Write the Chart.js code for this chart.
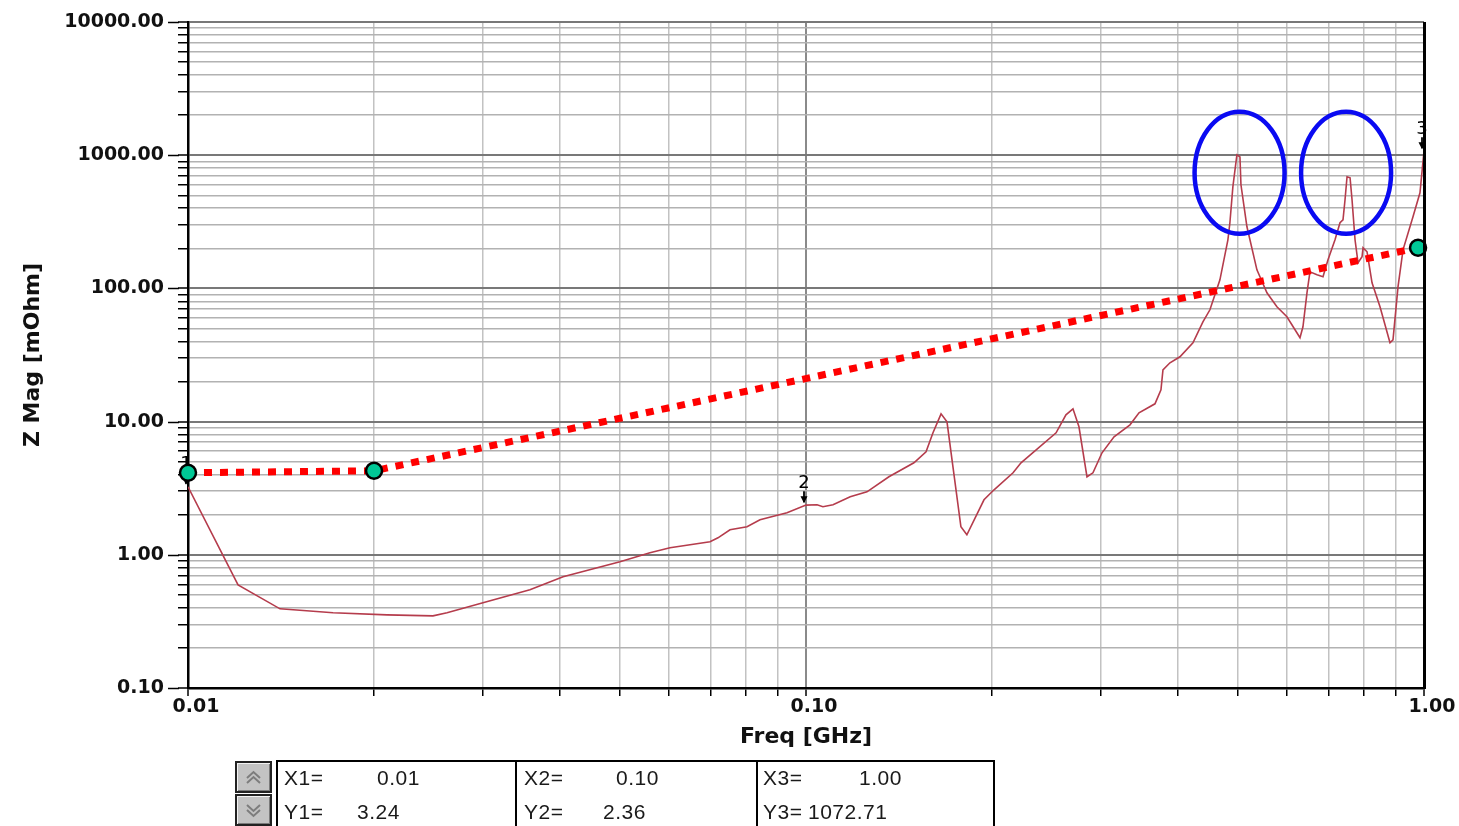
<!DOCTYPE html>
<html>
<head>
<meta charset="utf-8">
<script src="https://cdn.jsdelivr.net/npm/chart.js@4.4.1/dist/chart.umd.min.js"></script>
<style>
  html, body { margin: 0; padding: 0; background: #fff; overflow: hidden; }
  #wrap { position: relative; width: 1459px; height: 826px; }
  #chart { position: absolute; left: 0; top: 0; }
  .box { position: absolute; left: 276px; top: 760px; width: 719px; height: 90px; border: 2px solid #000; box-sizing: border-box; }
  .div { position: absolute; top: 760px; width: 0; height: 90px; border-left: 2px solid #000; }
  .t { position: absolute; font-family: "Liberation Sans", Arial, sans-serif; font-size: 21px; letter-spacing: 0.5px; color: #1a1a1a; line-height: 24px; white-space: pre; }
  .btn { position: absolute; left: 235px; width: 37px; height: 32px; background: #c3c3c3; box-sizing: border-box;
         border: 2px solid #222; box-shadow: inset 1px 1px 0 #f2f2f2, inset -1px -1px 0 #7a7a7a; }
  .btn svg { position: absolute; left: 0; top: 0; }
</style>
</head>
<body>
<div id="wrap">
  <canvas id="chart" width="1459" height="826"></canvas>
  <div class="btn" style="top:761px"><svg width="33" height="28"><polyline points="10,15 16.5,9 23,15" fill="none" stroke="#7d7d7d" stroke-width="2"/><polyline points="10,20 16.5,14 23,20" fill="none" stroke="#7d7d7d" stroke-width="2"/></svg></div>
  <div class="btn" style="top:794px"><svg width="33" height="28"><polyline points="10,9 16.5,15 23,9" fill="none" stroke="#7d7d7d" stroke-width="2"/><polyline points="10,14 16.5,20 23,14" fill="none" stroke="#7d7d7d" stroke-width="2"/></svg></div>
  <div class="box"></div>
  <div class="div" style="left:515px"></div>
  <div class="div" style="left:756px"></div>
  <div id="readout"></div>
</div>
<script>
// ---------------- data ----------------
const freqGHz = [
  0.0100, 0.01205, 0.01409, 0.01717, 0.02099, 0.02491, 0.02625, 0.03001, 0.03575, 0.04045,
  0.0500, 0.05591, 0.06025, 0.06994, 0.07204, 0.07534, 0.08027, 0.08425, 0.09317, 0.1000,
  0.1042, 0.1065, 0.1106, 0.1179, 0.1255, 0.1362, 0.1495, 0.1564, 0.1605, 0.1654,
  0.1691, 0.1729, 0.1781, 0.1821, 0.1941, 0.2015, 0.2163, 0.2228, 0.2539, 0.2634,
  0.2704, 0.2765, 0.2849, 0.2913, 0.3013, 0.3151, 0.3344, 0.3458, 0.3670, 0.3753,
  0.3781, 0.3881, 0.4028, 0.4228, 0.4388, 0.4504, 0.4675, 0.4816, 0.4852, 0.4906,
  0.4980, 0.5037, 0.5056, 0.5170, 0.5366, 0.5570, 0.5781, 0.6000, 0.6300, 0.6370,
  0.6466, 0.6538, 0.6712, 0.6864, 0.6993, 0.7178, 0.7313, 0.7395, 0.7451, 0.7507,
  0.7592, 0.7648, 0.7734, 0.7821, 0.7939, 0.7968, 0.8088, 0.8240, 0.8488, 0.8810,
  0.8909, 0.9077, 0.9248, 0.9598, 0.9851, 1.0000
];
const zMag = [
  3.24, 0.595, 0.393, 0.367, 0.354, 0.348, 0.367, 0.436, 0.546, 0.684,
  0.886, 1.035, 1.129, 1.252, 1.341, 1.541, 1.623, 1.831, 2.067, 2.36,
  2.373, 2.293, 2.373, 2.725, 2.972, 3.852, 4.906, 5.934, 8.24, 11.44,
  9.97, 4.578, 1.623, 1.413, 2.588, 3.076, 4.127, 4.906, 8.24, 11.25,
  12.48, 9.14, 3.852, 4.127, 5.832, 7.69, 9.46, 11.65, 13.60, 17.33,
  24.48, 27.63, 30.65, 39.05, 56.13, 69.1, 116.0, 231.7, 310.9, 579,
  1007, 972, 599.6, 290.1, 137.9, 92.7, 72.8, 61.2, 42.6, 51.5,
  92.7, 133.2, 126.5, 122.2, 163.9, 231.7, 310.9, 327.3, 462.8, 688.4,
  676.6, 462.8, 231.7, 155.7, 172.7, 201.7, 188.3, 110.2, 72.8, 39.05,
  41.1, 102.8, 194.9, 344.8, 522, 1072.71
];
// target impedance mask (dotted red line with markers)
const maskFreq = [0.01, 0.02, 0.978];
const maskZ = [4.13, 4.27, 202];
// marker readouts
const markerFreq = [0.01, 0.10, 1.00];
const markerZ = [3.24, 2.36, 1072.71];
// highlighted resonances (blue ellipses)
const highlightFreq = [0.503, 0.748];
const highlightZ = [738, 738];
// tick labels
const xTickLabels = ['0.01', '0.10', '1.00'];
const yTickLabels = ['0.10', '1.00', '10.00', '100.00', '1000.00', '10000.00'];
const minorMultipliers = [1, 2, 3, 4, 5, 6, 7, 8, 9];

// ---------------- helpers ----------------
function buildTicks(labels) {
  const decades = labels.map(Number);
  const vals = [];
  decades.forEach((d, i) => {
    if (i === decades.length - 1) { vals.push(d); return; }
    minorMultipliers.forEach(m => vals.push(+(d * m).toPrecision(6)));
  });
  return vals;
}
function isDecade(v) {
  const l = Math.log10(v);
  return Math.abs(l - Math.round(l)) < 1e-6;
}
function labelFor(labels, v) {
  const found = labels.find(s => Math.abs(Number(s) - v) < 1e-9 * Math.max(1, v));
  return found !== undefined ? found : '';
}
const xTickValues = buildTicks(xTickLabels);
const yTickValues = buildTicks(yTickLabels);

const tickFont = { family: 'DejaVu Sans', size: 19, weight: 'bold', lineHeight: 1.15 };
const titleFont = { family: 'DejaVu Sans', size: 22, weight: 'bold' };

// ---------------- extra drawing plugin ----------------
const overlay = {
  id: 'overlay',
  beforeDatasetsDraw(chart) {
    const { ctx, scales: { x, y } } = chart;
    ctx.save();
    ctx.fillStyle = '#000';
    ctx.strokeStyle = '#000';
    ctx.font = '18px "DejaVu Sans"';
    ctx.textAlign = 'center';
    ctx.textBaseline = 'middle';
    markerFreq.forEach((mf, i) => {
      const px = x.getPixelForValue(mf) - 2;
      const py = y.getPixelForValue(markerZ[i]);
      ctx.fillText(String(i + 1), px, py - 22);
      ctx.lineWidth = 1.8;
      ctx.beginPath(); ctx.moveTo(px, py - 14); ctx.lineTo(px, py - 3); ctx.stroke();
      ctx.beginPath(); ctx.moveTo(px - 3.5, py - 9); ctx.lineTo(px + 3.5, py - 9); ctx.lineTo(px, py - 2); ctx.closePath(); ctx.fill();
    });
    ctx.restore();
  },
  afterDatasetsDraw(chart) {
    const { ctx, scales: { x, y } } = chart;
    ctx.save();
    ctx.strokeStyle = '#0a0af2';
    ctx.lineWidth = 4.5;
    highlightFreq.forEach((hf, i) => {
      const cx = x.getPixelForValue(hf);
      const cy = y.getPixelForValue(highlightZ[i]);
      ctx.beginPath();
      ctx.ellipse(cx, cy, 45, 61, 0, 0, Math.PI * 2);
      ctx.stroke();
    });
    ctx.restore();
  },
  afterDraw(chart) {
    const { ctx, chartArea, scales: { y } } = chart;
    ctx.save();
    // thick right frame
    ctx.strokeStyle = '#000';
    ctx.lineWidth = 3;
    ctx.beginPath();
    ctx.moveTo(chartArea.right + 0.5, chartArea.top);
    ctx.lineTo(chartArea.right + 0.5, chartArea.bottom + 1);
    ctx.stroke();
    // longer major ticks on the y axis
    ctx.lineWidth = 1.5;
    yTickLabels.map(Number).forEach(v => {
      const py = Math.round(y.getPixelForValue(v)) + 0.5;
      ctx.beginPath();
      ctx.moveTo(chartArea.left - 20, py);
      ctx.lineTo(chartArea.left - 9, py);
      ctx.stroke();
    });
    ctx.restore();
  }
};

// ---------------- chart ----------------
new Chart(document.getElementById('chart'), {
  type: 'line',
  data: {
    datasets: [
      {
        label: 'Target',
        data: maskFreq.map((f, i) => ({ x: f, y: maskZ[i] })),
        borderColor: '#ff0000',
        borderWidth: 7,
        borderDash: [8, 8],
        borderCapStyle: 'butt',
        pointRadius: 8,
        pointBackgroundColor: '#00c896',
        pointBorderColor: '#000',
        pointBorderWidth: 2.5,
        tension: 0,
        clip: false,
        order: 0
      },
      {
        label: 'Z Mag',
        data: freqGHz.map((f, i) => ({ x: f, y: zMag[i] })),
        borderColor: '#b53c4c',
        borderWidth: 1.6,
        pointRadius: 0,
        tension: 0,
        order: 1
      }
    ]
  },
  options: {
    responsive: false,
    animation: false,
    devicePixelRatio: 1,
    layout: { padding: { left: 0, top: 22, right: 35, bottom: 74 } },
    plugins: { legend: { display: false }, tooltip: { enabled: false } },
    scales: {
      x: {
        type: 'logarithmic',
        min: 0.01,
        max: 1,
        afterBuildTicks: s => { s.ticks = xTickValues.map(v => ({ value: v })); },
        afterFit: s => { s.height = 64; s.paddingLeft = 0; s.paddingRight = 0; },
        ticks: {
          autoSkip: false, maxRotation: 0, minRotation: 0,
          padding: 0, labelOffset: 8, color: '#111', font: tickFont,
          callback: v => labelFor(xTickLabels, v)
        },
        grid: {
          color: c => (c.tick && isDecade(c.tick.value)) ? '#8a8a8a' : '#c2c2c2',
          lineWidth: c => (c.tick && isDecade(c.tick.value)) ? 2 : 1.5,
          tickColor: '#000', tickLength: 8, tickWidth: 1.5
        },
        border: { display: true, color: '#000', width: 2.5 },
        title: { display: true, text: 'Freq [GHz]', color: '#111', font: titleFont, padding: { top: 0, bottom: 2 } }
      },
      y: {
        type: 'logarithmic',
        min: 0.1,
        max: 10000,
        afterBuildTicks: s => { s.ticks = yTickValues.map(v => ({ value: v })); },
        afterFit: s => { s.width = 188; s.paddingTop = 0; s.paddingBottom = 0; },
        ticks: {
          autoSkip: false, padding: 14, color: '#111', font: tickFont,
          callback: v => labelFor(yTickLabels, v)
        },
        grid: {
          color: c => (c.tick && isDecade(c.tick.value)) ? '#787878' : '#b2b2b2',
          lineWidth: c => (c.tick && isDecade(c.tick.value)) ? 2 : 1.5,
          tickColor: '#000', tickLength: 10, tickWidth: 1.5
        },
        border: { display: true, color: '#000', width: 2.5 },
        title: { display: true, text: 'Z Mag [mOhm]', color: '#111', font: titleFont, padding: { top: 20, bottom: 0 } }
      }
    }
  },
  plugins: [overlay]
});

// ---------------- marker readout table (real text) ----------------
const cellLeft = [284, 524, 763];
const xValueLeft = [377, 616, 859];
const yValueLeft = [357, 603, 808];
const ro = document.getElementById('readout');
markerFreq.forEach((mf, i) => {
  const add = (txt, left, top) => {
    const d = document.createElement('div');
    d.className = 't';
    d.style.left = left + 'px';
    d.style.top = top + 'px';
    d.textContent = txt;
    ro.appendChild(d);
  };
  add('X' + (i + 1) + '=', cellLeft[i], 766);
  add(mf.toFixed(2), xValueLeft[i], 766);
  add('Y' + (i + 1) + '=', cellLeft[i], 800);
  add(markerZ[i].toFixed(2), yValueLeft[i], 800);
});
</script>
</body>
</html>
